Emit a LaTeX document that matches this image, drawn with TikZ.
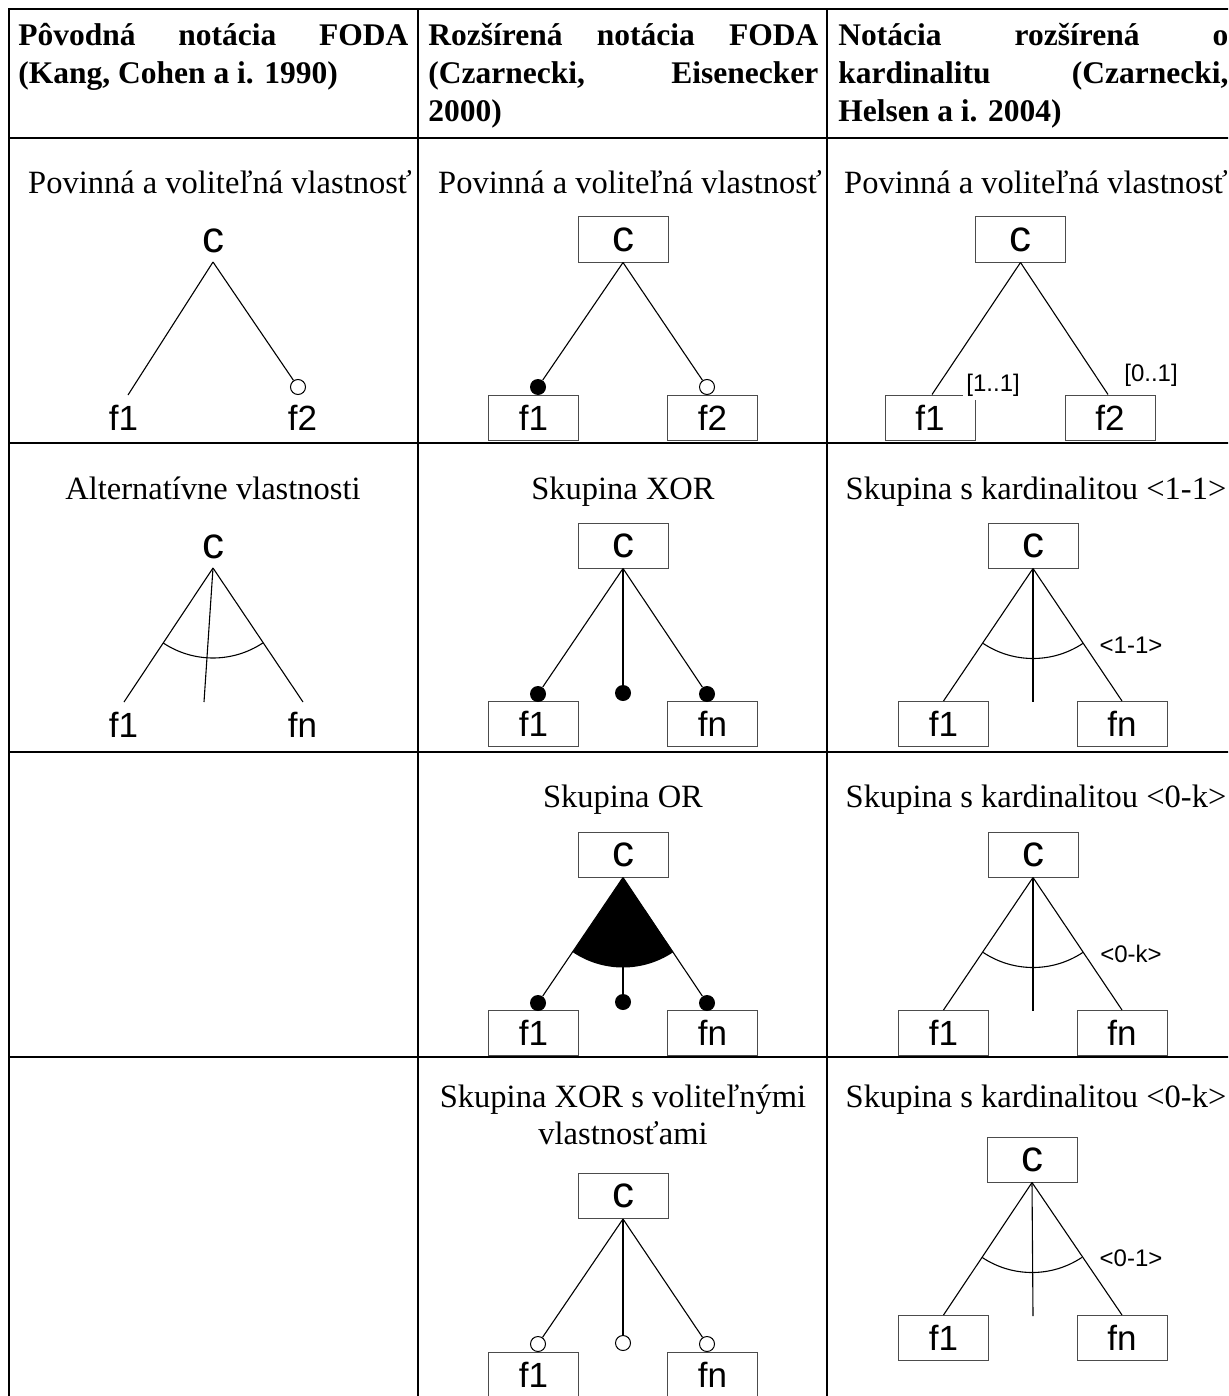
\documentclass[tikz,border=0pt]{standalone}
\usepackage{fontspec}
\setmainfont{Liberation Serif}
\newfontfamily\labelfont{Liberation Sans}
\usetikzlibrary{calc}

\begin{document}
\begin{tikzpicture}[x=0.5pt, y=-0.5pt,
  grid/.style={line width=1.3pt},
  hdr/.style={anchor=base west, inner sep=0, font=\fontsize{15.75}{18}\selectfont\bfseries},
  ttl/.style={anchor=base, inner sep=0, font=\fontsize{16.25}{18}\selectfont},
  feat/.style={draw=black!70, line width=0.5pt, minimum width=45pt, minimum height=22.5pt,
               inner sep=0, font=\labelfont\fontsize{17.5}{17.5}\selectfont},
  lbl/.style={inner sep=0, font=\labelfont\fontsize{17.5}{17.5}\selectfont},
  root/.style={font=\labelfont\fontsize{22}{22}\selectfont},
  card/.style={inner sep=0, font=\labelfont\fontsize{12}{12}\selectfont},
  edge/.style={line width=0.55pt},
  mand/.style={circle, fill=black, minimum size=8pt, inner sep=0},
  opt/.style={circle, draw=black, fill=white, line width=0.5pt, minimum size=7.5pt, inner sep=0},
]
\useasboundingbox (0,0) rectangle (1228,1396);
\clip (0,0) rectangle (1228,1396);

% table rules
\draw[grid] (9,1420) -- (9,9) -- (1237,9) -- (1237,1420);
\draw[grid] (418,9) -- (418,1420);
\draw[grid] (827,9) -- (827,1420);
\foreach \yy in {138,443,752,1057} \draw[grid] (9,\yy) -- (1237,\yy);

% column headings
\node[hdr] (h1a) at (18,46) {\makebox[195pt][s]{Pôvodná notácia FODA}};
\node[hdr] (h1b) at (18,84) {(Kang, Cohen a i. 1990)};
\node[hdr] (h2a) at (428,46) {\makebox[195pt][s]{Rozšírená notácia FODA}};
\node[hdr] (h2b) at (428,84) {\makebox[195pt][s]{(Czarnecki, Eisenecker}};
\node[hdr] (h2c) at (428,122) {2000)};
\node[hdr] (h3a) at (838,46) {\makebox[195pt][s]{Notácia rozšírená o}};
\node[hdr] (h3b) at (838,84) {\makebox[195pt][s]{kardinalitu (Czarnecki,}};
\node[hdr] (h3c) at (838,122) {Helsen a i. 2004)};

% cell titles
\node[ttl] (t11) at (220,194) {Povinná a voliteľná vlastnosť};
\node[ttl] (t12) at (630,194) {Povinná a voliteľná vlastnosť};
\node[ttl] (t13) at (1036,194) {Povinná a voliteľná vlastnosť};
\node[ttl] (t21) at (213,499) {Alternatívne vlastnosti};
\node[ttl] (t22) at (623,499) {Skupina XOR};
\node[ttl] (t23) at (1036,499) {Skupina s kardinalitou <1-1>};
\node[ttl] (t32) at (623,807) {Skupina OR};
\node[ttl] (t33) at (1036,807) {Skupina s kardinalitou <0-k>};
\node[ttl] (t42a) at (623,1107) {Skupina XOR s voliteľnými};
\node[ttl] (t42b) at (623,1144) {vlastnosťami};
\node[ttl] (t43) at (1036,1107) {Skupina s kardinalitou <0-k>};

% ---- row 1 ----
% original FODA
\node[lbl, root] (c11) at (213,241) {c};
\coordinate (a11) at (213,262);
\coordinate (e11a) at (128,395);
\node[opt] (o11b) at (298,387) {};
\node[lbl] (f11a) at (123.5,418) {f1};
\node[lbl] (f11b) at (302.5,418) {f2};
\draw[edge] (a11) -- (e11a);
\draw[edge] (a11) -- (o11b);

% extended FODA
\node[feat, root] (c12) at (623,239.5) {c};
\node[feat] (f12a) at (533.5,417.5) {f1};
\node[feat] (f12b) at (712.5,417.5) {f2};
\node[mand] (m12a) at (538,387) {};
\node[opt] (o12b) at (707,387) {};
\draw[edge] (c12.south) -- (m12a);
\draw[edge] (c12.south) -- (o12b);

% cardinality-based
\node[feat, root] (c13) at (1020.5,239.5) {c};
\node[feat] (f13a) at (930,417.5) {f1};
\node[feat] (f13b) at (1110,417.5) {f2};
\draw[edge] (c13.south) -- ($(f13a.north)+(2,0)$);
\draw[edge] (c13.south) -- ($(f13b.north)+(-2,0)$);
\node[card, fill=white, anchor=south west, inner sep=1.5pt] (k13a) at (963,400) {[1..1]};
\node[card] (k13b) at (1151,375) {[0..1]};

% ---- row 2 ----
% alternative features
\node[lbl, root] (c21) at (213,547) {c};
\coordinate (a21) at (213,568);
\coordinate (e21a) at (124,702);
\coordinate (e21b) at (303,702);
\coordinate (e21m) at (204,702);
\draw[edge] (a21) -- (e21a);
\draw[edge] (a21) -- (e21b);
\draw[edge] (a21) -- (e21m);
\draw[edge] ($(a21)+(123.6:90)$) arc[start angle=123.6, end angle=56.4, radius=90];
\node[lbl] (f21a) at (123.5,725) {f1};
\node[lbl] (f21b) at (302.5,725) {fn};

% XOR group
\node[feat, root] (c22) at (623,545.5) {c};
\node[feat] (f22a) at (533.5,724) {f1};
\node[feat] (f22b) at (712.5,724) {fn};
\node[mand] (m22a) at (538,694) {};
\node[mand] (m22m) at (623,693) {};
\node[mand] (m22b) at (707,694) {};
\draw[edge] (c22.south) -- (m22a);
\draw[edge] (c22.south) -- (m22m);
\draw[edge] (c22.south) -- (m22b);

% group cardinality <1-1>
\node[feat, root] (c23) at (1033,545.5) {c};
\node[feat] (f23a) at (943.5,724) {f1};
\node[feat] (f23b) at (1122,724) {fn};
\coordinate (e23m) at (1033,702);
\draw[edge] (c23.south) -- (f23a.north);
\draw[edge] (c23.south) -- (f23b.north);
\draw[edge] (c23.south) -- (e23m);
\draw[edge] ($(c23.south)+(123.6:90)$) arc[start angle=123.6, end angle=56.4, radius=90];
\node[card] (k23) at (1131,645) {<1-1>};

% ---- row 3 ----
% OR group
\node[feat, root] (c32) at (623,854.5) {c};
\node[feat] (f32a) at (533.5,1033) {f1};
\node[feat] (f32b) at (712.5,1033) {fn};
\fill (c32.south) -- ++(124:90) arc[start angle=124, end angle=56, radius=90] -- cycle;
\node[mand] (m32a) at (538,1003) {};
\node[mand] (m32m) at (623,1002) {};
\node[mand] (m32b) at (707,1003) {};
\draw[edge] (c32.south) -- (m32a);
\draw[edge] (c32.south) -- (m32m);
\draw[edge] (c32.south) -- (m32b);

% group cardinality <0-k>
\node[feat, root] (c33) at (1033,854.5) {c};
\node[feat] (f33a) at (943.5,1033) {f1};
\node[feat] (f33b) at (1122,1033) {fn};
\coordinate (e33m) at (1033,1011);
\draw[edge] (c33.south) -- (f33a.north);
\draw[edge] (c33.south) -- (f33b.north);
\draw[edge] (c33.south) -- (e33m);
\draw[edge] ($(c33.south)+(123.6:90)$) arc[start angle=123.6, end angle=56.4, radius=90];
\node[card] (k33) at (1131,954) {<0-k>};

% ---- row 4 ----
% XOR group with optional features
\node[feat, root] (c42) at (623,1196) {c};
\node[feat] (f42a) at (533.5,1374.5) {f1};
\node[feat] (f42b) at (712.5,1374.5) {fn};
\node[opt] (o42a) at (538,1344) {};
\node[opt] (o42m) at (623,1343) {};
\node[opt] (o42b) at (707,1344) {};
\draw[edge] (c42.south) -- (o42a);
\draw[edge] (c42.south) -- (o42m);
\draw[edge] (c42.south) -- (o42b);

% group cardinality <0-1>
\node[feat, root] (c43) at (1032,1159.5) {c};
\node[feat] (f43a) at (943.5,1338) {f1};
\node[feat] (f43b) at (1122,1338) {fn};
\coordinate (e43m) at (1033,1316);
\draw[edge] (c43.south) -- (f43a.north);
\draw[edge] (c43.south) -- (f43b.north);
\draw[edge] (c43.south) -- (e43m);
\draw[edge] ($(c43.south)+(123.6:90)$) arc[start angle=123.6, end angle=56.4, radius=90];
\node[card] (k43) at (1131,1258) {<0-1>};
\end{tikzpicture}
\end{document}
